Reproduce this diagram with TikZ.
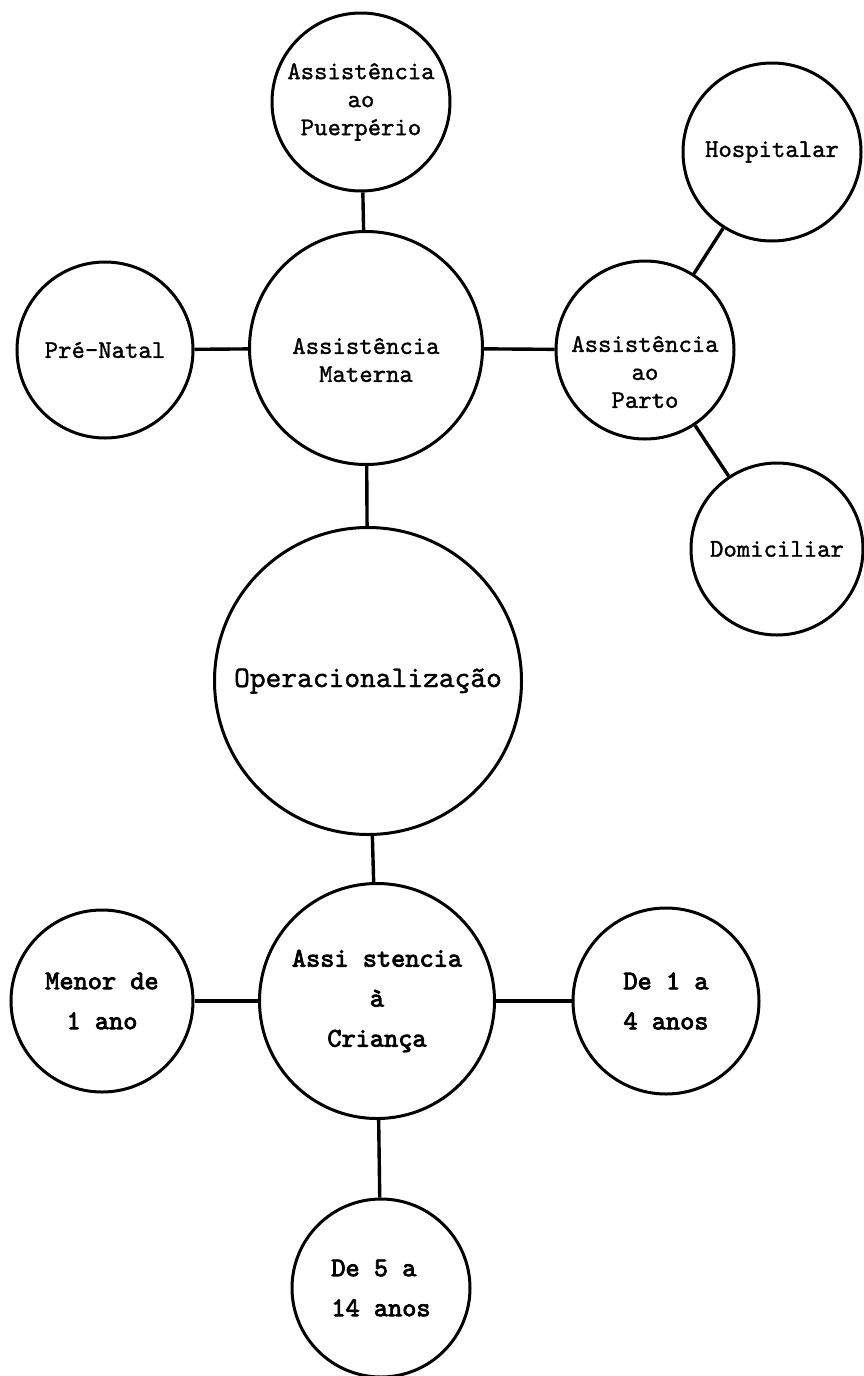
\documentclass[tikz,border=0pt]{standalone}
\usepackage{fontspec}
\newfontfamily\typer[FakeBold=1.2]{lmmono10-regular.otf}
\newfontfamily\heavytyper[FakeBold=3]{lmmono10-regular.otf}
\usepackage{tikz}

\tikzset{
  txt/.style={inner sep=0pt, align=center, font=\typer\fontsize{25.5}{28}\selectfont},
  bubble/.style={circle, draw, line width=3pt, txt},
  boldbubble/.style={bubble, font=\heavytyper\fontsize{27}{40}\selectfont},
  link/.style={line width=3.4pt}
}

\begin{document}
\begin{tikzpicture}[x=1pt, y=-1pt]
\useasboundingbox (0,0) rectangle (864,1376);
% upper group
\node[bubble, minimum size=178] (puerp) at (361,102) {Assistência\\ao\\Puerpério};
\node[bubble, minimum size=233, label={[txt, yshift=-12pt]center:{Assistência\\Materna}}] (mat) at (366,348) {};
\node[bubble, minimum size=176] (prenat) at (105,350) {Pré-Natal};
\node[bubble, minimum size=178, label={[txt, yshift=-22pt]center:{Assistência\\ao\\Parto}}] (parto) at (645,350) {};
\node[bubble, minimum size=178] (hosp) at (772,152) {Hospitalar};
\node[bubble, minimum size=172] (domic) at (777,549) {Domiciliar};
% centre
\node[bubble, minimum size=307, font=\typer\fontsize{30}{32}\selectfont] (oper) at (368,681) {Operacionalização};
% lower group
\node[boldbubble, minimum size=235] (crian) at (377,1001) {Assi stencia\\à\\Criança};
\node[boldbubble, minimum size=182] (menor) at (102,1001) {Menor de\\1 ano};
\node[boldbubble, minimum size=186] (de14) at (666,1001) {De 1 a\\4 anos};
\node[boldbubble, minimum size=178, align=left] (de514) at (381,1288) {De 5 a\\14 anos};

\draw[link] (puerp) -- (mat);
\draw[link] (prenat) -- (mat);
\draw[link] (mat) -- (parto);
\draw[link] (parto) -- (hosp);
\draw[link] (parto) -- (domic);
\draw[link] (mat) -- (oper);
\draw[link] (oper) -- (crian);
\draw[link] (menor) -- (crian);
\draw[link] (crian) -- (de14);
\draw[link] (crian) -- (de514);
\end{tikzpicture}
\end{document}
